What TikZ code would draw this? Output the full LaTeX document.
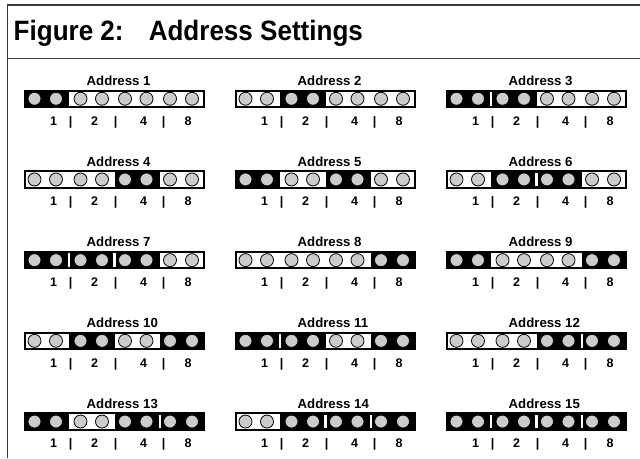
\documentclass[tikz,border=0pt]{standalone}
\usepackage{fontspec}
\setmainfont{Liberation Sans}
\definecolor{framegray}{HTML}{3A3A3A}
\definecolor{pingray}{HTML}{CCCCCC}
\begin{document}
\begin{tikzpicture}[x=1pt,y=-1pt,
  framerule/.style={framegray,line width=1.6pt},
  pin/.style={circle,fill=pingray,draw=black,line width=0.8pt,minimum size=13pt,inner sep=0pt},
  lbl/.style={font=\fontsize{13.2}{14}\selectfont\bfseries,inner sep=0pt,anchor=base west},
  dig/.style={font=\fontsize{12.5}{14}\selectfont\bfseries,inner sep=0pt,anchor=base},
  titletext/.style={font=\fontsize{28}{30}\selectfont\bfseries,inner sep=0pt,anchor=base west},
]
\useasboundingbox (0,0) rectangle (640,458);
\fill[white] (0,0) rectangle (640,458);
\draw[framerule] (7.5,458) -- (7.5,5) -- (640,5);
\draw[framerule] (7.5,58.5) -- (640,58.5);
\node[titletext] (title) at (13.5,40) {\scalebox{0.93}[1]{Figure 2:\hspace{27pt}Address Settings}};
\foreach \n in {1,...,15}{
  \pgfmathtruncatemacro\col{mod(\n-1,3)}
  \pgfmathtruncatemacro\row{floor((\n-1)/3)}
  \pgfmathsetmacro\xo{24+211*\col}
  \pgfmathsetmacro\yo{89.5+80.7*\row}
  \begin{scope}[shift={(\xo,\yo)}]
    \fill[white] (0,0) rectangle (181,18.5);
    \draw[black,line width=2pt] (1,1) rectangle (180,17.5);
    \foreach \k/\a/\b in {0/0/45,1/45/90.5,2/90.5/136,3/136/181}{
      \pgfmathtruncatemacro\bit{mod(floor(\n/2^\k),2)}
      \ifnum\bit=1 \fill[black] (\a,0) rectangle (\b,18.5); \fi
    }
    \foreach \k/\s in {0/45,1/90.5,2/136}{
      \pgfmathtruncatemacro\both{mod(floor(\n/2^\k),2)*mod(floor(\n/2^(\k+1)),2)}
      \ifnum\both=1 \fill[white] (\s-1.25,2.5) rectangle (\s+1.25,16); \fi
    }
    \foreach \cx [count=\i] in {10.5,32,56.5,78,101,122.5,146,168}
      \node[pin] (p\n-\i) at (\cx,9.25) {};
    \node[lbl] (a\n) at (62.5,-4) {Address \n};
    \foreach \t/\dx [count=\j] in {1/29.5,|/46.5,2/70.5,|/91.5,4/119.5,|/139.5,8/164}
      \node[dig] (d\n-\j) at (\dx,35.5) {\t};
  \end{scope}
}
\end{tikzpicture}
\end{document}
